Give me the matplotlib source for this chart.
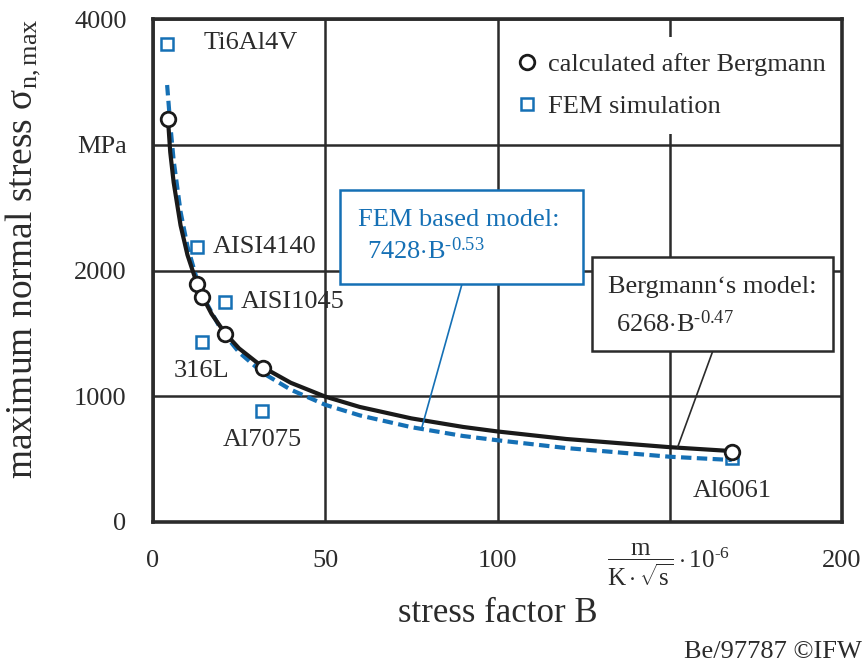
import matplotlib
matplotlib.use("Agg")
import matplotlib.pyplot as plt
from matplotlib.patches import Rectangle

plt.rcParams['font.family'] = ['Liberation Serif', 'DejaVu Serif']
plt.rcParams['mathtext.fontset'] = 'custom'
plt.rcParams['mathtext.rm'] = 'Liberation Serif'
plt.rcParams['mathtext.it'] = 'Liberation Serif:italic'
plt.rcParams['mathtext.bf'] = 'Liberation Serif:bold'

# ---- data ----
bergmann_B = [4.35, 12.8, 14.2, 20.9, 31.9, 168]
bergmann_sigma = [3205, 1893, 1789, 1495, 1225, 557]

fem_materials = ['Ti6Al4V', 'AISI4140', '316L', 'AISI1045', 'Al7075', 'Al6061']
fem_B = [4.1, 12.8, 14.2, 20.9, 31.6, 168]
fem_sigma = [3801, 2187, 1431, 1749, 883, 509]

# Bergmann's model curve
curve_berg_B = [4.35, 5, 6, 8, 10, 12.8, 14.2, 17, 20.9, 25, 31.9, 40, 50, 60, 75, 90, 100, 120, 150, 168]
curve_berg_sigma = [3205, 2942, 2700, 2359, 2124, 1892, 1801, 1655, 1502, 1380, 1231, 1107, 997, 915, 824, 756, 720, 660, 595, 564]

# FEM based model curve
curve_fem_B = [4.1, 5, 6, 8, 10, 12.8, 15, 20, 25, 32, 40, 50, 60, 75, 90, 100, 120, 150, 168]
curve_fem_sigma = [3475, 3165, 2873, 2467, 2192, 1924, 1768, 1518, 1349, 1183, 1052, 932, 848, 754, 684, 650, 588, 519, 493]

x_ticks = [0, 50, 100, 150, 200]
x_tick_labels = ['0', '50', '100', '', '200']
y_ticks = [0, 1000, 2000, 3000, 4000]
y_tick_labels = ['0', '1000', '2000', 'MPa', '4000']

HY = '\u2010'  # hyphen-like minus as in the original
BLUE = '#1570b5'
DARK = '#2b2b2b'

fig = plt.figure(figsize=(8.63, 6.67), dpi=100)
ax = fig.add_axes([153/863, 1 - 522/667, 689/863, 503/667])
ax.set_xlim(0, 200)
ax.set_ylim(0, 4000)
ax.set_xticks(x_ticks)
ax.set_xticklabels(x_tick_labels)
ax.set_yticks(y_ticks)
ax.set_yticklabels(y_tick_labels)
ax.tick_params(axis='both', length=0, labelsize=19, colors=DARK)
ax.tick_params(axis='x', pad=20)
ax.tick_params(axis='y', pad=19)
ax.grid(True, color=DARK, lw=1.8, zorder=0)
ax.set_axisbelow(True)
for s in ax.spines.values():
    s.set_linewidth(2.6)
    s.set_color(DARK)
    s.set_zorder(6)

# curves
ax.plot(curve_fem_B, curve_fem_sigma, color=BLUE, lw=3.0, dashes=(2.5, 1.3), zorder=3)
ax.plot(curve_berg_B, curve_berg_sigma, color='#1a1a1a', lw=3.0, zorder=4)

# points
ax.plot(fem_B, fem_sigma, ls='none', marker='s', ms=8.5, mfc='none', mec=BLUE, mew=1.8,
        zorder=5, label='FEM simulation')
ax.plot(bergmann_B, bergmann_sigma, ls='none', marker='o', ms=10.5, mfc='white', mec='#1a1a1a',
        mew=2.0, zorder=6, label='calculated after Bergmann')

# material labels
label_offsets = {
    'Ti6Al4V': ((26, 1), 'left', 'center'),
    'AISI4140': ((11, 0), 'left', 'center'),
    'AISI1045': ((11, 0), 'left', 'center'),
    '316L': ((0, -21), 'center', 'center'),
    'Al7075': ((0, -21), 'center', 'center'),
    'Al6061': ((0, -28), 'center', 'center'),
}
for name, bx, sy in zip(fem_materials, fem_B, fem_sigma):
    (dx, dy), ha, va = label_offsets[name]
    if name == 'Al6061':
        bx, sy = bergmann_B[-1], bergmann_sigma[-1]
    ax.annotate(name, xy=(bx, sy), xytext=(dx, dy), textcoords='offset points',
                ha=ha, va=va, fontsize=19, color=DARK, zorder=7)

# legend
h, l = ax.get_legend_handles_labels()
leg = ax.legend(h[::-1], l[::-1], loc='upper left', bbox_to_anchor=(0.503, 0.965),
                fontsize=19, frameon=True, facecolor='white', edgecolor='none', framealpha=1,
                handlelength=0.9, handletextpad=0.35, labelspacing=0.72, borderpad=0.6,
                borderaxespad=0)
leg.set_zorder(5)
for t in leg.get_texts():
    t.set_color(DARK)

# model boxes
ax.add_patch(Rectangle((54.3, 1893), 70.5, 747, facecolor='white', edgecolor=BLUE, lw=1.8, zorder=5))
ax.text(59.5, 2400, 'FEM based model:', fontsize=19, color=BLUE, va='center', ha='left', zorder=7)
ax.text(62.0, 2160, r'7428$\cdot$B$^{\mathregular{' + HY + r'0.53}}$', fontsize=19, color=BLUE,
        va='center', ha='left', zorder=7)
ax.plot([89.7, 78.0], [1893, 748], color=BLUE, lw=1.2, zorder=4)

ax.add_patch(Rectangle((127.4, 1360), 69.9, 747, facecolor='white', edgecolor=DARK, lw=1.8, zorder=5))
ax.text(132.0, 1865, 'Bergmann\u2018s model:', fontsize=19, color=DARK, va='center', ha='left', zorder=7)
ax.text(134.5, 1580, r'6268$\cdot$B$^{\mathregular{' + HY + r'0.47}}$', fontsize=19, color=DARK,
        va='center', ha='left', zorder=7)
ax.plot([162.5, 152.3], [1360, 596], color=DARK, lw=1.2, zorder=4)

# unit at x = 150
ax.annotate(r'$\dfrac{\mathrm{m}}{\mathrm{K}\cdot\sqrt{\mathrm{s}}}\cdot10^{\mathregular{' + HY + r'6}}$',
            xy=(150, 0), xycoords=('data', 'axes fraction'), xytext=(-1, -31),
            textcoords='offset points', ha='center', va='center', fontsize=18, color=DARK,
            annotation_clip=False)

ax.set_xlabel('stress factor B', fontsize=25, color=DARK, labelpad=18)
ax.set_ylabel(r'maximum normal stress $\mathregular{\sigma_{n,max}}$', fontsize=27, color=DARK)
ax.yaxis.set_label_coords(-0.160, 0.543)

fig.text(684/863, 1 - 652/667, 'Be/97787 \u00a9IFW', fontsize=19, color=DARK, ha='left', va='center')

fig.savefig('out.png', dpi=100)
